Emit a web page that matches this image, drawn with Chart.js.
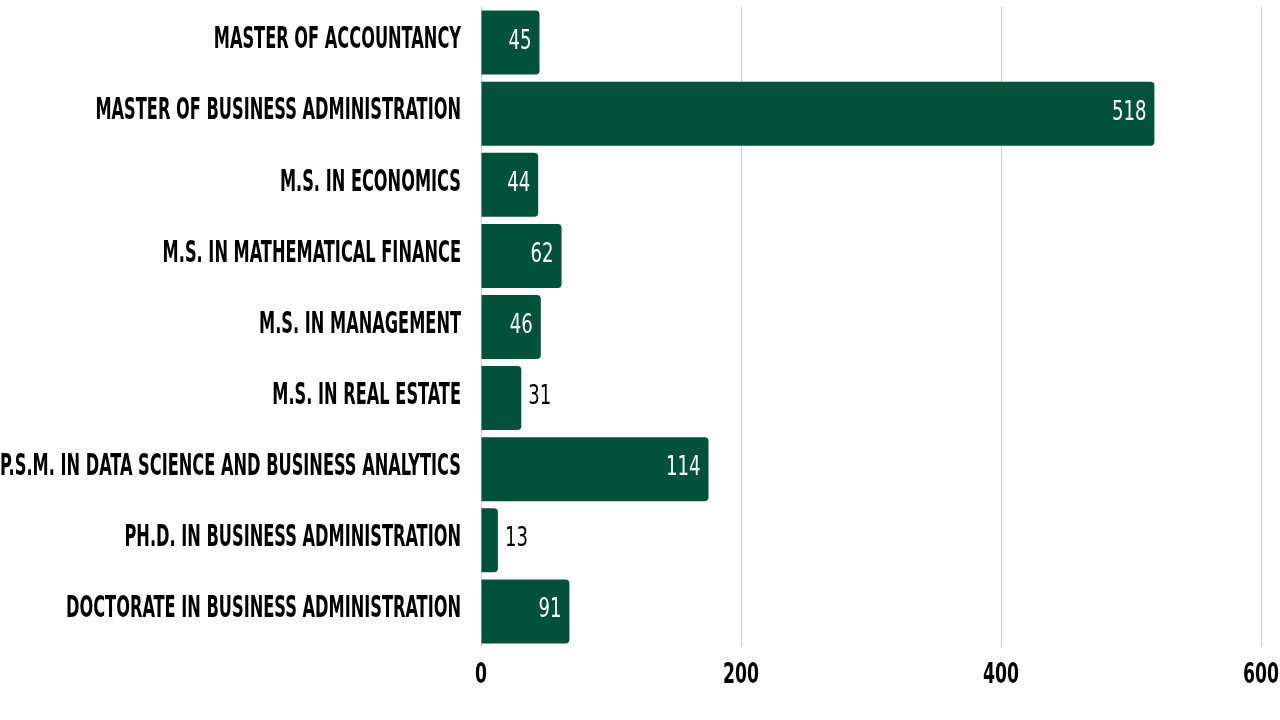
<!DOCTYPE html>
<html>
<head>
  <meta charset="UTF-8" />
  <title>Graduate Programs</title>
  <style>
    html, body {
      margin: 0;
      padding: 0;
      background: white;
    }
    #wrap {
      width: 1280px;
      height: 720px;
    }
  </style>
  <script src="https://cdn.jsdelivr.net/npm/chart.js"></script>
</head>
<body>

<div id="wrap"><canvas id="chart" width="1280" height="720"></canvas></div>

<script>
// Program names, top to bottom
const programs = [
    "MASTER OF ACCOUNTANCY",
    "MASTER OF BUSINESS ADMINISTRATION",
    "M.S. IN ECONOMICS",
    "M.S. IN MATHEMATICAL FINANCE",
    "M.S. IN MANAGEMENT",
    "M.S. IN REAL ESTATE",
    "P.S.M. IN DATA SCIENCE AND BUSINESS ANALYTICS",
    "PH.D. IN BUSINESS ADMINISTRATION",
    "DOCTORATE IN BUSINESS ADMINISTRATION"
];

// Bar lengths as drawn in the picture
const barValues = [45, 518, 44, 62, 46, 31, 175, 13, 68];

// Numbers printed on the bars (two of them differ from the bar length)
const valueLabels = ["45", "518", "44", "62", "46", "31", "114", "13", "91"];

// X axis ticks
const xTicks = [0, 200, 400, 600];

const GREEN = "#02523a";
const NARROW = "'Liberation Sans Narrow', 'DejaVu Sans Condensed', 'Liberation Sans', sans-serif";

// write text squeezed horizontally by sx, anchored at (x, y)
function squeezed(ctx, text, x, y, sx) {
    ctx.save();
    ctx.translate(x, y);
    ctx.scale(sx, 1);
    ctx.fillText(text, 0, 0);
    ctx.restore();
}

// Draws the condensed category names, x tick labels and the value labels
const labelPlugin = {
    id: "labels",
    afterDatasetsDraw(chart) {
        const ctx = chart.ctx;
        const xScale = chart.scales.x;
        const yScale = chart.scales.y;
        const meta = chart.getDatasetMeta(0);

        // category names
        ctx.save();
        ctx.font = "bold 30px " + NARROW;
        let widest = 0;
        programs.forEach(p => { widest = Math.max(widest, ctx.measureText(p).width); });
        const sy = Math.min(1, 461 / widest);
        ctx.fillStyle = "#000";
        ctx.textAlign = "right";
        ctx.textBaseline = "middle";
        programs.forEach((p, i) => {
            squeezed(ctx, p, 461, yScale.getPixelForValue(i) - 2, sy);
        });

        // x tick labels
        ctx.font = "bold 28px " + NARROW;
        ctx.textAlign = "center";
        const sxT = Math.min(1, 36 / ctx.measureText("600").width);
        xTicks.forEach(v => {
            squeezed(ctx, String(v), xScale.getPixelForValue(v), 676, sxT);
        });
        ctx.restore();

        // value labels: inside the bar in white, outside in black for short bars
        ctx.save();
        ctx.font = "27px " + NARROW;
        ctx.textBaseline = "middle";
        const sxV = Math.min(1, 23 / ctx.measureText("45").width);
        meta.data.forEach((bar, i) => {
            const w = bar.x - bar.base;
            if (w > 50) {
                ctx.fillStyle = "#fff";
                ctx.textAlign = "right";
                squeezed(ctx, valueLabels[i], bar.x - 8, bar.y - 1, sxV);
            } else {
                ctx.fillStyle = "#000";
                ctx.textAlign = "left";
                squeezed(ctx, valueLabels[i], bar.x + 7, bar.y - 1, sxV);
            }
        });
        ctx.restore();
    }
};

new Chart(document.getElementById("chart").getContext("2d"), {
    type: "bar",
    data: {
        labels: programs,
        datasets: [{
            data: barValues,
            backgroundColor: GREEN,
            borderRadius: 4,
            borderSkipped: "start",
            barPercentage: 0.9,
            categoryPercentage: 1.0
        }]
    },
    options: {
        indexAxis: "y",
        responsive: false,
        animation: false,
        layout: { padding: { top: 7, right: 19, bottom: 0, left: 0 } },
        plugins: {
            legend: { display: false },
            tooltip: { enabled: false }
        },
        scales: {
            x: {
                min: 0,
                max: 600,
                afterBuildTicks: axis => { axis.ticks = xTicks.map(v => ({ value: v })); },
                grid: { color: "#cccccc", lineWidth: 1, drawTicks: false },
                border: { display: false },
                ticks: { display: false },
                afterFit: axis => { axis.height = 73; }
            },
            y: {
                grid: { display: false },
                border: { display: false },
                ticks: { display: false },
                afterFit: axis => { axis.width = 481; }
            }
        }
    },
    plugins: [labelPlugin]
});
</script>

</body>
</html>
